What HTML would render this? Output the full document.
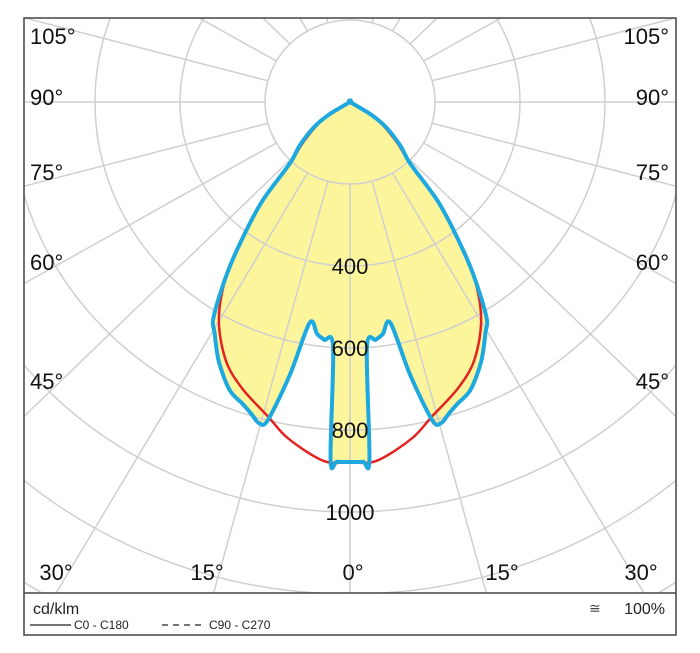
<!DOCTYPE html>
<html><head><meta charset="utf-8"><style>
html,body{margin:0;padding:0;background:#fff;width:700px;height:653px;overflow:hidden;}
svg{display:block;font-family:"Liberation Sans",sans-serif;}
</style></head><body>
<svg id="chart" width="700" height="653" viewBox="0 0 700 653">
<defs><clipPath id="plotclip"><rect x="24" y="18" width="652" height="575"/></clipPath></defs>
<rect x="0" y="0" width="700" height="653" fill="#fff"/>
<g id="fill" clip-path="url(#plotclip)"></g>
<g id="grid" clip-path="url(#plotclip)"></g>
<g id="curves" clip-path="url(#plotclip)"></g>
<g id="labels"></g>
<rect x="24" y="18" width="652" height="617" fill="none" stroke="#444" stroke-width="1.5"/>
<line x1="24" y1="593" x2="676" y2="593" stroke="#444" stroke-width="1.5"/>
<g>
<text x="33" y="614" font-size="16" fill="#222">cd/klm</text>
<line x1="30" y1="625" x2="71" y2="625" stroke="#222" stroke-width="1.2"/>
<text x="74" y="629" font-size="12" fill="#222">C0 - C180</text>
<line x1="162" y1="625" x2="202" y2="625" stroke="#222" stroke-width="1.2" stroke-dasharray="6,5"/>
<text x="209" y="629" font-size="12" fill="#222">C90 - C270</text>
<text x="589" y="613" font-size="14" fill="#444">≅</text>
<text x="665" y="614" font-size="16" fill="#222" text-anchor="end">100%</text>
</g>
</svg>
<script>
// data
const ringValues = [200, 400, 600, 800, 1000, 1200, 1400, 1600];
const ringLabels = ["400", "600", "800", "1000"];
const ringLabelValues = [400, 600, 800, 1000];
const spokeAngles = [0, 15, 30, 45, 60, 75, 90, 105, 120, 135, 150, 165, 180];
const leftAngleLabels = ["105°", "90°", "75°", "60°", "45°"];
const bottomAngleLabels = ["30°", "15°", "0°", "15°", "30°"];
const c0Gammas = [0, 4, 10, 14, 20, 25, 30.5, 35, 38, 41, 44, 48, 54, 58, 62];
const c0Values = [878, 878, 834, 792, 743, 693, 608, 500, 395, 300, 195, 150, 95, 55, 0];
const c90Gammas = [0, 2, 3, 3.8, 6, 7.8, 10, 12, 14, 15.3, 17, 19, 22, 26, 29.5, 31.5, 34.7, 37.7, 40.6, 43.4, 48, 54, 58, 62];
const c90Values = [878, 878, 874, 600, 583, 571, 547, 680, 800, 812, 795, 778, 757, 704, 647, 614, 507, 404, 315, 205, 160, 105, 60, 0];

const CX = 350, CY = 102, SX = 0.425, SY = 0.41;
function px(g, r){ return CX + SX * r * Math.sin(g * Math.PI / 180); }
function py(g, r){ return CY + SY * r * Math.cos(g * Math.PI / 180); }
const NS = "http://www.w3.org/2000/svg";
function mk(tag, parent){ const e = document.createElementNS(NS, tag); parent.appendChild(e); return e; }

const grid = document.getElementById('grid');
ringValues.forEach(v => {
  const e = mk('ellipse', grid);
  
  
  e.setAttribute('cx', CX); e.setAttribute('cy', CY);
  e.setAttribute('rx', SX * v); e.setAttribute('ry', SY * v);
  e.setAttribute('fill', 'none'); e.setAttribute('stroke', '#cfcfcf'); e.setAttribute('stroke-width', '1.5');
});
spokeAngles.forEach(a => {
  [1, -1].forEach(s => {
    if (s < 0 && (a === 0 || a === 180)) return;
    const g = a * s;
    const l = mk('line', grid);
    
    
    l.setAttribute('x1', px(g, 200)); l.setAttribute('y1', py(g, 200));
    l.setAttribute('x2', px(g, 2400)); l.setAttribute('y2', py(g, 2400));
    l.setAttribute('stroke', '#cfcfcf'); l.setAttribute('stroke-width', '1.5');
  });
});

function pathFor(gs, vs){
  const pts = [];
  for (let i = gs.length - 1; i >= 0; i--) pts.push([px(-gs[i], vs[i]), py(-gs[i], vs[i])]);
  for (let i = 1; i < gs.length; i++) pts.push([px(gs[i], vs[i]), py(gs[i], vs[i])]);
  // closed Catmull-Rom (tension 0.5)
  const n = pts.length;
  let d = 'M' + pts[0][0].toFixed(1) + ',' + pts[0][1].toFixed(1);
  const t = 0.16;
  for (let i = 0; i < n; i++) {
    const p0 = pts[(i - 1 + n) % n], p1 = pts[i], p2 = pts[(i + 1) % n], p3 = pts[(i + 2) % n];
    const c1 = [p1[0] + (p2[0] - p0[0]) * t, p1[1] + (p2[1] - p0[1]) * t];
    const c2 = [p2[0] - (p3[0] - p1[0]) * t, p2[1] - (p3[1] - p1[1]) * t];
    d += ' C' + c1[0].toFixed(1) + ',' + c1[1].toFixed(1) + ' ' + c2[0].toFixed(1) + ',' + c2[1].toFixed(1) + ' ' + p2[0].toFixed(1) + ',' + p2[1].toFixed(1);
  }
  return d + ' Z';
}
const fillG = document.getElementById('fill');
const f = mk('path', fillG);


f.setAttribute('d', pathFor(c90Gammas, c90Values));
f.setAttribute('fill', '#fdf59c');

const curves = document.getElementById('curves');
const red = mk('path', curves);


red.setAttribute('d', pathFor(c0Gammas, c0Values));
red.setAttribute('fill', 'none'); red.setAttribute('stroke', '#e32322'); red.setAttribute('stroke-width', '2.5'); red.setAttribute('stroke-linejoin', 'round');
const blue = mk('path', curves);


blue.setAttribute('d', pathFor(c90Gammas, c90Values));
blue.setAttribute('fill', 'none'); blue.setAttribute('stroke', '#1ea8e0'); blue.setAttribute('stroke-width', '4'); blue.setAttribute('stroke-linejoin', 'round');

const labels = document.getElementById('labels');
ringLabels.forEach((t, i) => {
  const e = mk('text', labels);
  
  
  e.setAttribute('x', CX); e.setAttribute('y', py(0, ringLabelValues[i]) + 8);
  e.setAttribute('text-anchor', 'middle'); e.setAttribute('font-size', '22'); e.setAttribute('fill', '#111');
  e.textContent = t;
});
const sideY = [44, 105, 180, 270, 389];
leftAngleLabels.forEach((t, i) => {
  const a = mk('text', labels);
  
  
  a.setAttribute('x', 30); a.setAttribute('y', sideY[i]);
  a.setAttribute('font-size', '22'); a.setAttribute('fill', '#111');
  a.textContent = t;
  const b = mk('text', labels);
  
  
  b.setAttribute('x', 669); b.setAttribute('y', sideY[i]);
  b.setAttribute('text-anchor', 'end'); b.setAttribute('font-size', '22'); b.setAttribute('fill', '#111');
  b.textContent = t;
});
const bottomX = [56, 207, 353, 502, 641];
bottomAngleLabels.forEach((t, i) => {
  const e = mk('text', labels);
  
  
  e.setAttribute('x', bottomX[i]); e.setAttribute('y', 580);
  e.setAttribute('text-anchor', 'middle'); e.setAttribute('font-size', '22'); e.setAttribute('fill', '#111');
  e.textContent = t;
});
</script>
</body></html>
